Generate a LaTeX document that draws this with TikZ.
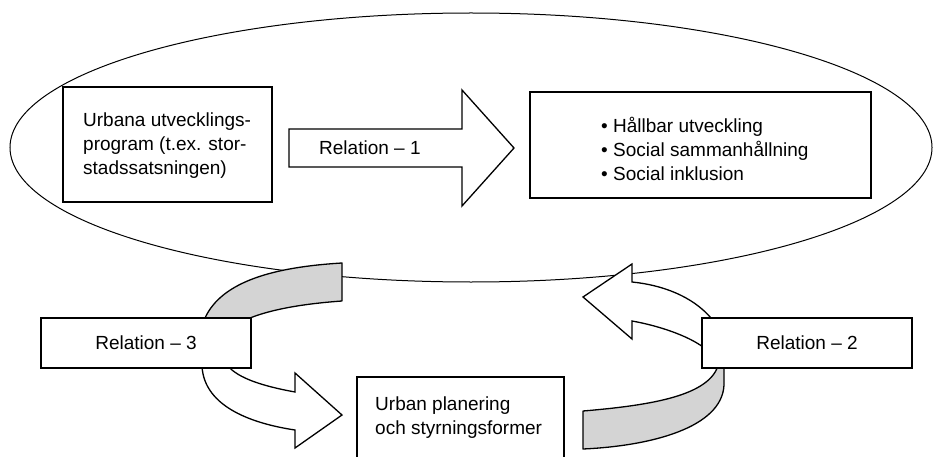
\documentclass[tikz,border=0pt]{standalone}
\usepackage{fontspec}
\setmainfont{Liberation Sans}
\usetikzlibrary{shapes.geometric}
\begin{document}
\begin{tikzpicture}[x=1pt,y=-1pt,
  box/.style={draw, line width=1.8pt, fill=white, inner sep=0pt, font=\fontsize{19}{24}\selectfont},
  txt/.style={font=\fontsize{19}{24}\selectfont, align=left, inner sep=0pt},
  band/.style={draw, line width=1.3pt, fill=black!17, line join=round},
  blockarrow/.style={draw, line width=1.3pt, fill=white, line join=miter}]
\clip (0,0) rectangle (933,457);
\fill[white] (0,0) rectangle (933,457);
% big ellipse
\node[draw, ellipse, line width=1pt, minimum width=922, minimum height=269, inner sep=0pt] (ell) at (471,147.5) {};
% top-left gray band (Relation 3 -> ellipse)
\draw[band] (205,318) .. controls (222,281) and (275,267) .. (342,263) -- (342,301) .. controls (300,304) and (270,310) .. (250,318) -- cycle;
% Relation 3 white arrow to planning box
\draw[blockarrow] (202,366) .. controls (204,408) and (255,424) .. (295,430) -- (295,448) -- (342,415) -- (295,373) -- (295,392) .. controls (262,386) and (238,378) .. (228,366) -- cycle;
% Relation 2 white arrow to ellipse
\draw[blockarrow] (711,318) .. controls (692,296) and (662,285) .. (632,282) -- (632,264) -- (583,297) -- (632,339) -- (632,321) .. controls (660,326) and (688,336) .. (703,347) -- cycle;
% bottom gray band (planning -> Relation 2)
\draw[band] (724,366) -- (724,385) .. controls (722,428) and (650,446) .. (583,449) -- (583,411) .. controls (655,405) and (708,395) .. (718,366) -- cycle;
% Relation 1 block arrow
\draw[blockarrow] (289,129) -- (462,129) -- (462,90) -- (514,148) -- (462,206) -- (462,167) -- (289,167) -- cycle;
\node[txt, anchor=base west] (r1t) at (319,155) {Relation – 1};
% boxes
\node[box, minimum width=209, minimum height=115] (urb) at (167.5,144.5) {};
\node[txt, anchor=west] (urbt) at (83,146) {Urbana utvecklings-\\program (t.ex. stor-\\stadssatsningen)};
\node[box, minimum width=341, minimum height=106] (goal) at (700.5,145) {};
\node[txt, anchor=west] (goalt) at (601,149) {• Hållbar utveckling\\• Social sammanhållning\\• Social inklusion};
\node[box, minimum width=210, minimum height=50] (r3) at (146,343) {Relation – 3};
\node[box, minimum width=210, minimum height=50] (r2) at (807,343) {Relation – 2};
\node[box, minimum width=207, minimum height=103] (plan) at (460.5,428.5) {};
\node[txt, anchor=west] (plant) at (375,418) {Urban planering\\och styrningsformer};
\end{tikzpicture}
\end{document}
